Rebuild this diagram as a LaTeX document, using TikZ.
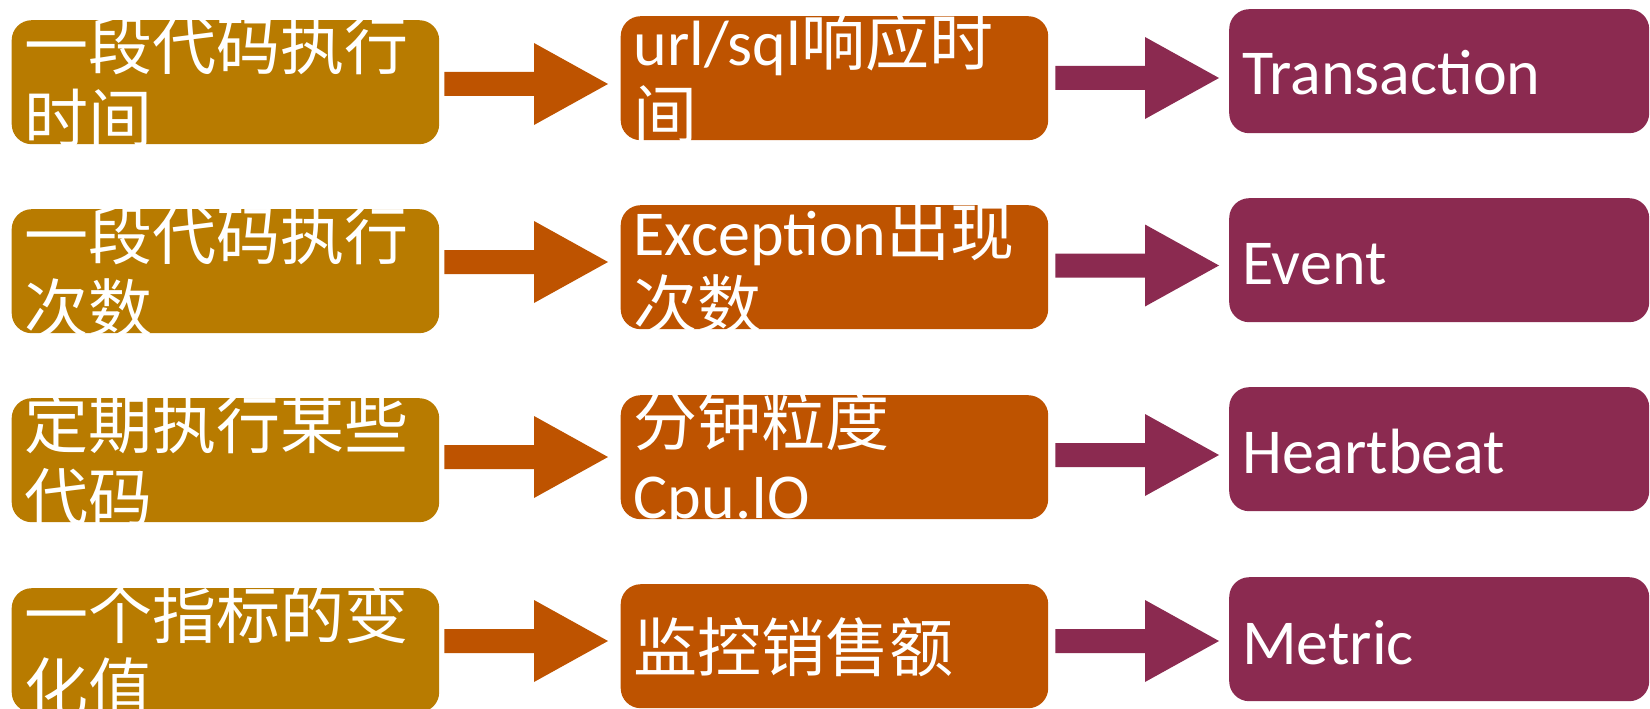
\documentclass[tikz,border=0pt]{standalone}
\usepackage{fontspec}
\setmainfont{Carlito}
\newfontfamily\cjk{Noto Sans CJK SC}
\usetikzlibrary{calc}
\definecolor{colA}{RGB}{184,123,0}
\definecolor{colB}{RGB}{190,83,0}
\definecolor{colC}{RGB}{139,42,80}
\newcommand\tlines[2]{\vtop{\baselineskip=73pt\lineskiplimit=-200pt\hbox{#1}\hbox{#2}}}
% #1 from node, #2 to node, #3 y, #4 colour, #5 gap after from, #6 gap before to
\newcommand\blockarrow[6]{%
  \fill[#4] let \p1=(#1.east), \p2=(#2.west) in
    (\x1+#5, #3+12) -- (\x2-#6-74, #3+12) -- (\x2-#6-74, #3+41) -- (\x2-#6, #3)
    -- (\x2-#6-74, #3-41) -- (\x2-#6-74, #3-12) -- (\x1+#5, #3-12) -- cycle;}
\newcommand\boxtext[3]{%
  \begin{scope}
    \clip[rounded corners=20pt] (#1.south west) rectangle (#1.north east);
    \node[txt, anchor=base west] (t#1) at ($(#1.north west)+(13,-#2)$) {#3};
  \end{scope}}
\begin{document}
\begin{tikzpicture}[x=1pt, y=1pt,
  cell/.style={rounded corners=20pt, inner sep=0pt, minimum height=124pt, anchor=north west, draw=none},
  cellA/.style={cell, fill=colA, minimum width=427.5pt},
  cellB/.style={cell, fill=colB, minimum width=427.5pt},
  cellC/.style={cell, fill=colC, minimum width=420pt},
  txt/.style={text=white, inner sep=0pt, font=\fontsize{64pt}{73pt}\selectfont}]
\useasboundingbox (0,0) rectangle (1650,-709);

% column 1
\node[cellA] (a1) at (11.5,-20) {};
\node[cellA] (a2) at (11.5,-209) {};
\node[cellA] (a3) at (11.5,-398) {};
\node[cellA] (a4) at (11.5,-588) {};
% column 2
\node[cellB] (b1) at (620.5,-16) {};
\node[cellB] (b2) at (620.5,-205) {};
\node[cellB] (b3) at (620.5,-395) {};
\node[cellB] (b4) at (620.5,-584) {};
% column 3
\node[cellC] (c1) at (1229,-9) {};
\node[cellC] (c2) at (1229,-198) {};
\node[cellC] (c3) at (1229,-387) {};
\node[cellC] (c4) at (1229,-577) {};

% texts
\boxtext{a1}{50}{\tlines{\cjk 一段代码执行}{\cjk 时间}}
\boxtext{a2}{50}{\tlines{\cjk 一段代码执行}{\cjk 次数}}
\boxtext{a3}{50}{\tlines{\cjk 定期执行某些}{\cjk 代码}}
\boxtext{a4}{50}{\tlines{\cjk 一个指标的变}{\cjk 化值}}
\boxtext{b1}{50}{\tlines{url/sql{\cjk 响应时}}{\cjk 间}}
\boxtext{b2}{50}{\tlines{Exception{\cjk 出现}}{\cjk 次数}}
\boxtext{b3}{50}{\tlines{\cjk 分钟粒度}{Cpu.IO}}
\boxtext{b4}{87}{\cjk 监控销售额}
\boxtext{c1}{86}{Transaction}
\boxtext{c2}{86}{Event}
\boxtext{c3}{86}{Heartbeat}
\boxtext{c4}{87}{Metric}

% arrows
\blockarrow{a1}{b1}{-84}{colB}{5}{12.5}
\blockarrow{a2}{b2}{-262}{colB}{5}{12.5}
\blockarrow{a3}{b3}{-457}{colB}{5}{12.5}
\blockarrow{a4}{b4}{-641}{colB}{5}{12.5}
\blockarrow{b1}{c1}{-78}{colC}{7}{10}
\blockarrow{b2}{c2}{-265.5}{colC}{7}{10}
\blockarrow{b3}{c3}{-455}{colC}{7}{10}
\blockarrow{b4}{c4}{-641}{colC}{7}{10}
\end{tikzpicture}
\end{document}
